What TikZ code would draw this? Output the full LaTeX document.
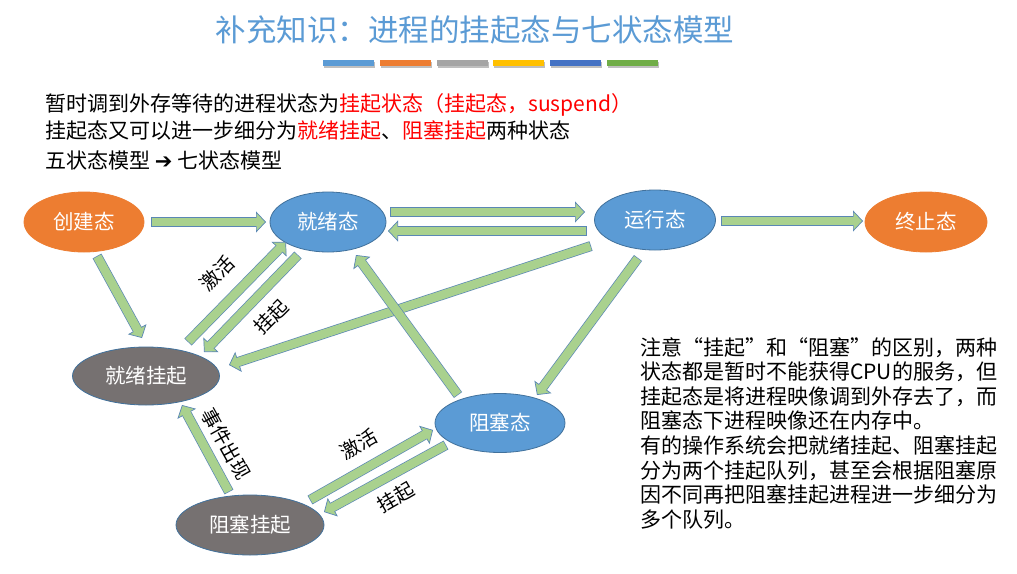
\documentclass[tikz,border=0pt]{standalone}
\usepackage{fontspec}
\setmainfont{Noto Sans CJK SC}
\newfontfamily\symfont{DejaVu Sans}
\usetikzlibrary{shapes.geometric,arrows.meta,calc}
\definecolor{titleblue}{HTML}{5B9BD5}
\definecolor{stateblue}{HTML}{5B9BD5}
\definecolor{edgeblue}{HTML}{41719C}
\definecolor{stateorange}{HTML}{ED7D31}
\definecolor{stategray}{HTML}{767171}
\definecolor{flowgreen}{HTML}{A9D18E}
\definecolor{flowedge}{HTML}{5A87B5}
\definecolor{notered}{HTML}{FF0000}
\definecolor{barA}{HTML}{5B9BD5}
\definecolor{barB}{HTML}{ED7D31}
\definecolor{barC}{HTML}{A5A5A5}
\definecolor{barD}{HTML}{FFC000}
\definecolor{barE}{HTML}{4472C4}
\definecolor{barF}{HTML}{70AD47}
\tikzset{
  state/.style={ellipse,draw=edgeblue,line width=0.8pt,text=white,inner sep=0pt,
    font=\fontsize{20.5}{24}\selectfont},
  blue state/.style={state,fill=stateblue},
  end state/.style={state,fill=stateorange,draw=stateorange},
  suspend state/.style={state,fill=stategray},
  flow/.style={draw=flowedge,line width=10pt,
    -{Triangle[length=10pt,width=21pt,line width=0.7pt,fill=flowgreen]},
    postaction={draw=flowgreen,line width=8.6pt,-,shorten >=8pt,shorten <=0.7pt}},
  lbl/.style={inner sep=0pt,font=\fontsize{19.5}{21}\selectfont},
  line/.style={anchor=west,inner sep=0pt,font=\fontsize{21}{24}\selectfont}
}
\begin{document}
\begin{tikzpicture}[x=1pt,y=-1pt]
\fill[white] (0,0) rectangle (1017,573);
\useasboundingbox (0,0) rectangle (1017,573);

% title and colour bars
\node[inner sep=0pt,text=titleblue,font=\fontsize{30.5}{34}\selectfont] (title) at (475,30)
  {补充知识：进程的挂起态与七状态模型};
\foreach \c [count=\i] in {barA,barB,barC,barD,barE,barF} {
  \fill[black!25] ({324+(\i-1)*56.8},61.5) rectangle +(51,6);
  \fill[\c] ({323+(\i-1)*56.8},60) rectangle +(51,6);
}

% intro lines
\node[line] (intro1) at (45,105) {暂时调到外存等待的进程状态为\textcolor{notered}{挂起状态（挂起态，suspend）}};
\node[line] (intro2) at (45,131) {挂起态又可以进一步细分为\textcolor{notered}{就绪挂起}、\textcolor{notered}{阻塞挂起}两种状态};
\node[line] (intro3) at (45,160) {五状态模型 {\symfont\bfseries ➔} 七状态模型};

% states
\node[end state,minimum width=120pt,minimum height=60pt] (create) at (84,222) {创建态};
\node[blue state,minimum width=116pt,minimum height=60pt] (ready) at (328,222) {就绪态};
\node[blue state,minimum width=121pt,minimum height=60pt] (run) at (655,220) {运行态};
\node[end state,minimum width=122pt,minimum height=60pt] (exit) at (926,222) {终止态};
\node[suspend state,minimum width=147pt,minimum height=58pt] (readysus) at (146,376) {就绪挂起};
\node[blue state,minimum width=130pt,minimum height=59pt] (blocked) at (500,423) {阻塞态};
\node[suspend state,minimum width=148pt,minimum height=60pt] (blocksus) at (250,525) {阻塞挂起};

% transitions
\draw[flow] ($(create)+(67,0)$) -- ($(ready)+(-62,0)$);
\draw[flow] ($(ready)+(62,-10)$) -- ($(run)+(-70,-8)$);
\draw[flow] ($(run)+(-68,11)$) -- ($(ready)+(60,9)$);
\draw[flow] ($(run)+(66,1)$) -- ($(exit)+(-63,-1)$);
\draw[flow] ($(run)+(-64,26)$) -- ($(readysus)+(83,-11)$);
\draw[flow] ($(run)+(-17,38)$) -- ($(blocked)+(37,-28)$);
\draw[flow] ($(blocked)+(-42,-28)$) -- ($(ready)+(28,33)$);
\draw[flow] ($(create)+(13,34)$) -- ($(readysus)+(-4,-38)$);
\draw[flow] ($(readysus)+(42,-34)$) -- ($(ready)+(-42,20)$);
\draw[flow] ($(ready)+(-30,33)$) -- ($(readysus)+(58,-24)$);
\draw[flow] ($(blocksus)+(-21,-33)$) -- ($(readysus)+(36,29)$);
\draw[flow] ($(blocksus)+(60,-25)$) -- ($(blocked)+(-67,7)$);
\draw[flow] ($(blocked)+(-54,22)$) -- ($(blocksus)+(74,-13)$);

% labels
\node[lbl,rotate=45] (act1) at (217,273) {激活};
\node[lbl,rotate=45] (sus1) at (271,317) {挂起};
\node[lbl,rotate=-61] (event) at (226,444) {事件出现};
\node[lbl,rotate=30] (act2) at (359,444) {激活};
\node[lbl,rotate=30] (sus2) at (396,497) {挂起};

% note
\node[anchor=north west,align=left,inner sep=0pt,font=\fontsize{21}{24.6}\selectfont] (note) at (640,337)
  {注意“挂起”和“阻塞”的区别，两种\\
   状态都是暂时不能获得CPU的服务，但\\
   挂起态是将进程映像调到外存去了，而\\
   阻塞态下进程映像还在内存中。\\
   有的操作系统会把就绪挂起、阻塞挂起\\
   分为两个挂起队列，甚至会根据阻塞原\\
   因不同再把阻塞挂起进程进一步细分为\\
   多个队列。};
\end{tikzpicture}
\end{document}
